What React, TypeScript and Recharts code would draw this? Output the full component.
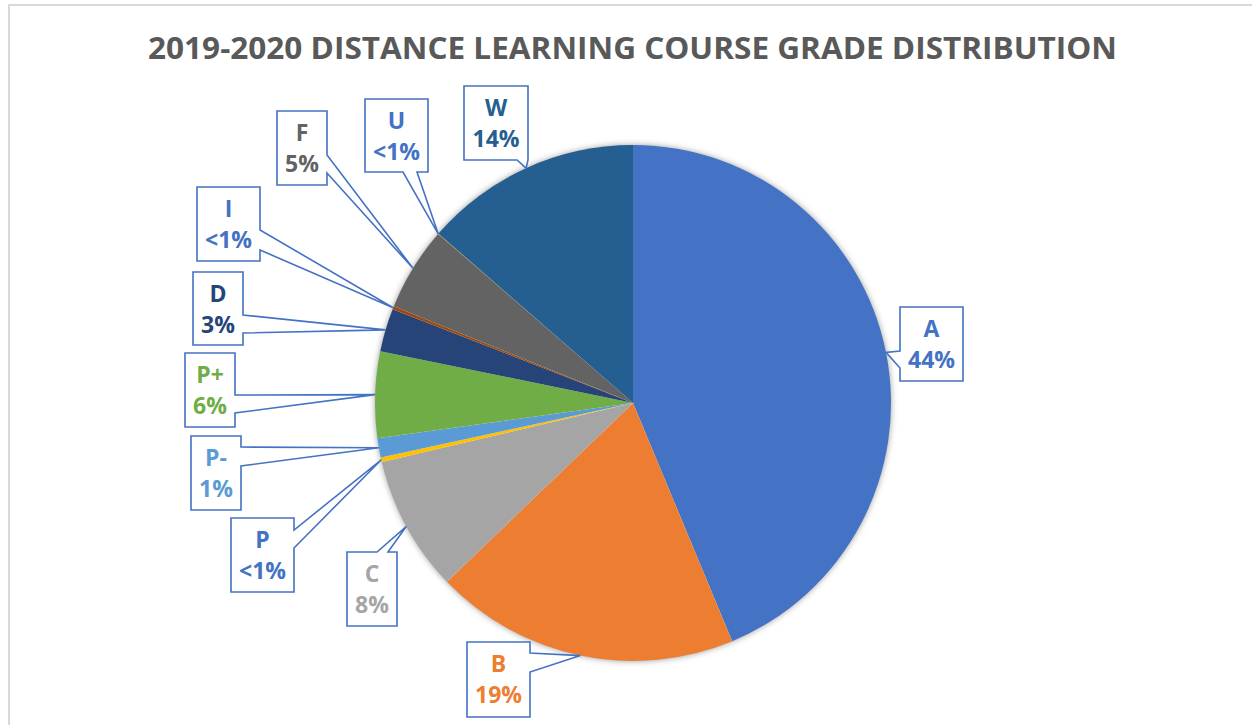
import React from "react";
import { PieChart, Pie, Cell } from "recharts";

const grades = ["A", "B", "C", "P", "P-", "P+", "D", "I", "F", "U", "W"];
const shares = [43.72, 19.1, 8.5, 0.3, 1.2, 5.4, 2.7, 0.2, 5.25, 0.03, 13.6];
const shareLabels = ["44%", "19%", "8%", "<1%", "1%", "6%", "3%", "<1%", "5%", "<1%", "14%"];

const sliceColors = ["#4472C4", "#ED7D31", "#A5A5A5", "#FFC000", "#5B9BD5", "#70AD47", "#264478", "#9E480E", "#636363", "#997300", "#255E91"];
const labelColors = ["#4472C4", "#ED7D31", "#A5A5A5", "#4472C4", "#5B9BD5", "#70AD47", "#264478", "#4472C4", "#636363", "#4472C4", "#255E91"];

// callout box layout (manual placement like the original)
type Side = "left" | "right" | "top" | "bottom";
const callouts: { x: number; y: number; w: number; h: number; side: Side; b1: number; b2: number }[] = [
  { x: 900, y: 307, w: 63, h: 74, side: "left", b1: 351, b2: 368 },
  { x: 467, y: 642, w: 63, h: 75, side: "right", b1: 653, b2: 672 },
  { x: 347, y: 552, w: 50, h: 74, side: "top", b1: 377, b2: 388 },
  { x: 231, y: 518, w: 63, h: 74, side: "right", b1: 530, b2: 548 },
  { x: 191, y: 436, w: 50, h: 74, side: "right", b1: 447, b2: 466 },
  { x: 185, y: 353, w: 50, h: 74, side: "right", b1: 395, b2: 413 },
  { x: 193, y: 272, w: 50, h: 73, side: "right", b1: 315, b2: 333 },
  { x: 197, y: 187, w: 63, h: 74, side: "right", b1: 230, b2: 250 },
  { x: 277, y: 111, w: 50, h: 74, side: "right", b1: 155, b2: 173 },
  { x: 365, y: 99, w: 63, h: 73, side: "bottom", b1: 403, b2: 417 },
  { x: 464, y: 86, w: 64, h: 74, side: "bottom", b1: 517, b2: 528 },
];

const TITLE = "2019-2020 DISTANCE LEARNING COURSE GRADE DISTRIBUTION";

const data = grades.map((g, i) => ({ name: g, value: shares[i], pct: shareLabels[i] }));
const shadowData = [{ name: "shadow", value: 1 }];

const RAD = Math.PI / 180;
const FONT = "'Open Sans', 'Liberation Sans', sans-serif";

function renderCallout(props: any) {
  const { cx, cy, midAngle, outerRadius, index } = props;
  const c = callouts[index];
  if (!c) return null;
  const tx = cx + outerRadius * Math.cos(-midAngle * RAD);
  const ty = cy + outerRadius * Math.sin(-midAngle * RAD);
  const { x, y, w, h, side, b1, b2 } = c;
  let pts: number[][] = [];
  if (side === "right") {
    pts = [[x, y], [x + w, y], [x + w, b1], [tx, ty], [x + w, b2], [x + w, y + h], [x, y + h]];
  } else if (side === "left") {
    pts = [[x, y], [x + w, y], [x + w, y + h], [x, y + h], [x, b2], [tx, ty], [x, b1]];
  } else if (side === "bottom") {
    pts = [[x, y], [x + w, y], [x + w, y + h], [b2, y + h], [tx, ty], [b1, y + h], [x, y + h]];
  } else {
    pts = [[x, y], [b1, y], [tx, ty], [b2, y], [x + w, y], [x + w, y + h], [x, y + h]];
  }
  const d = "M" + pts.map((p) => p[0].toFixed(1) + "," + p[1].toFixed(1)).join(" L") + " Z";
  const col = labelColors[index];
  return (
    <g key={"callout-" + index}>
      <path d={d} fill="#ffffff" stroke="#4472C4" strokeWidth={1.6} strokeLinejoin="miter" />
      <text x={x + w / 2} y={y + 30} textAnchor="middle" fill={col} fontFamily={FONT} fontWeight={700} fontSize={23}>
        {grades[index]}
      </text>
      <text x={x + w / 2} y={y + 61} textAnchor="middle" fill={col} fontFamily={FONT} fontWeight={700} fontSize={23}>
        {shareLabels[index]}
      </text>
    </g>
  );
}

export default function App() {
  return (
    <div style={{ position: "absolute", left: 0, top: 0, width: 1252, height: 725, overflow: "hidden", background: "#ffffff" }}>
      <div style={{ position: "absolute", left: 8, top: 4, width: 1400, height: 900, border: "2px solid #D9D9D9", boxSizing: "border-box" }} />
      <div style={{ position: "absolute", left: 0, top: 0 }}>
        <PieChart width={1252} height={725} margin={{ top: 0, right: 0, bottom: 0, left: 0 }}>
          <defs>
            <filter id="pieShadow" x="-20%" y="-20%" width="140%" height="140%">
              <feDropShadow dx="0" dy="0" stdDeviation="3.5" floodColor="#000000" floodOpacity="0.5" />
            </filter>
          </defs>
          <text x={632.5} y={59} textAnchor="middle" fill="#595959" fontFamily={FONT} fontWeight={700} fontSize={31} textLength={969} lengthAdjust="spacingAndGlyphs">
            {TITLE}
          </text>
          <Pie
            data={shadowData}
            dataKey="value"
            cx={633}
            cy={403}
            outerRadius={257}
            startAngle={90}
            endAngle={-270}
            fill="#ffffff"
            stroke="none"
            isAnimationActive={false}
          >
            <Cell fill="#ffffff" style={{ filter: "url(#pieShadow)" }} />
          </Pie>
          <Pie
            data={data}
            dataKey="value"
            nameKey="name"
            cx={633}
            cy={403}
            outerRadius={258}
            startAngle={90}
            endAngle={-270}
            stroke="none"
            isAnimationActive={false}
            labelLine={false}
            label={renderCallout}
          >
            {data.map((d, i) => (
              <Cell key={d.name} fill={sliceColors[i]} />
            ))}
          </Pie>
        </PieChart>
      </div>
    </div>
  );
}
